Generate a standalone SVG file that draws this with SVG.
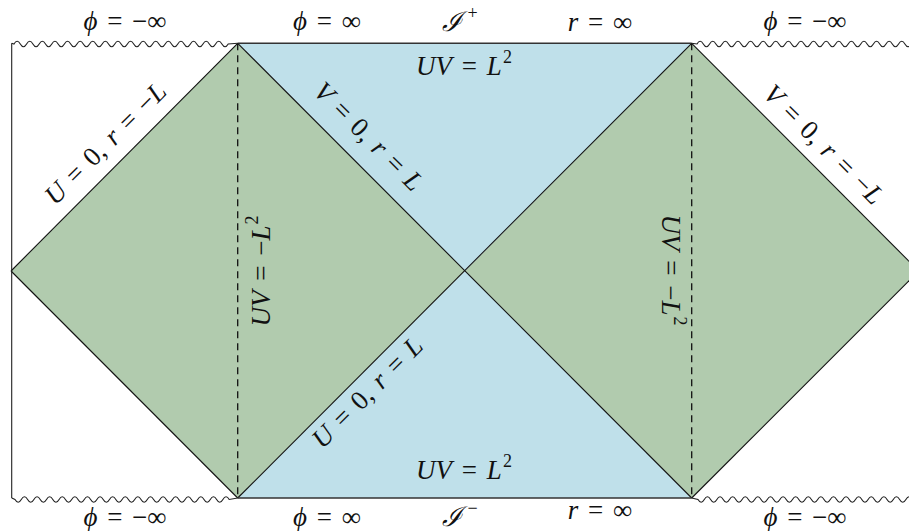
<svg xmlns="http://www.w3.org/2000/svg" width="909" height="531" viewBox="0 0 909 531">
<style>
.bg{fill:#ffffff}
.green{fill:#b1cbae;stroke:none}
.blue{fill:#bfe0ea;stroke:none}
.edge{stroke:#111;stroke-width:1.1;fill:none}
.horiz{stroke:#333;stroke-width:1.6;fill:none}
.wave{stroke:#222;stroke-width:1.1;fill:none}
.dash{stroke:#111;stroke-width:1.3;stroke-dasharray:7 5;fill:none}
.m{font-family:"Liberation Serif","Times New Roman","DejaVu Serif",serif;font-size:27px;fill:#111;word-spacing:3px}
.i{font-style:italic}
.sup{font-size:18px}
</style>
<rect class="bg" x="0" y="0" width="909" height="531"/>
<g id="regions">
  <polygon id="left-exterior" class="green" points="11,271 237.7,43.3 465,271 237.7,498"/>
  <polygon id="right-exterior" class="green" points="465,271 691.7,43.3 918.7,271 691.7,498"/>
  <polygon id="future-interior" class="blue" points="237.7,43.3 691.7,43.3 465,271"/>
  <polygon id="past-interior" class="blue" points="237.7,498 691.7,498 465,271"/>
</g>
<g id="connectors">
  <line class="edge" x1="11" y1="271" x2="237.7" y2="43.3"/>
  <line class="edge" x1="11" y1="271" x2="237.7" y2="498"/>
  <line class="edge" x1="237.7" y1="43.3" x2="691.7" y2="498"/>
  <line class="edge" x1="691.7" y1="43.3" x2="237.7" y2="498"/>
  <line class="edge" x1="691.7" y1="43.3" x2="918.7" y2="271"/>
  <line class="edge" x1="691.7" y1="498" x2="918.7" y2="271"/>
  <line class="horiz" x1="237.7" y1="43.3" x2="691.7" y2="43.3"/>
  <line class="horiz" x1="237.7" y1="498" x2="691.7" y2="498"/>
  <line class="dash" x1="237.7" y1="43.3" x2="237.7" y2="498"/>
  <line class="dash" x1="691.7" y1="43.3" x2="691.7" y2="498"/>
  <line class="wave" x1="11.7" y1="43.3" x2="11.7" y2="498"/>
  <path class="wave" d="M11.7,43.3 L14,44 q3.15,-5.5 6.3,0 t6.3,0 t6.3,0 t6.3,0 t6.3,0 t6.3,0 t6.3,0 t6.3,0 t6.3,0 t6.3,0 t6.3,0 t6.3,0 t6.3,0 t6.3,0 t6.3,0 t6.3,0 t6.3,0 t6.3,0 t6.3,0 t6.3,0 t6.3,0 t6.3,0 t6.3,0 t6.3,0 t6.3,0 t6.3,0 t6.3,0 t6.3,0 t6.3,0 t6.3,0 t6.3,0 t6.3,0 t6.3,0 t6.3,0 L237.7,43.3"/>
  <path class="wave" d="M11.7,498 L15,499.5 q3.15,5.5 6.3,0 t6.3,0 t6.3,0 t6.3,0 t6.3,0 t6.3,0 t6.3,0 t6.3,0 t6.3,0 t6.3,0 t6.3,0 t6.3,0 t6.3,0 t6.3,0 t6.3,0 t6.3,0 t6.3,0 t6.3,0 t6.3,0 t6.3,0 t6.3,0 t6.3,0 t6.3,0 t6.3,0 t6.3,0 t6.3,0 t6.3,0 t6.3,0 t6.3,0 t6.3,0 t6.3,0 t6.3,0 t6.3,0 t6.3,0 L237.7,498"/>
  <path class="wave" d="M691.7,43.3 L697,44 q3.15,-5.5 6.3,0 t6.3,0 t6.3,0 t6.3,0 t6.3,0 t6.3,0 t6.3,0 t6.3,0 t6.3,0 t6.3,0 t6.3,0 t6.3,0 t6.3,0 t6.3,0 t6.3,0 t6.3,0 t6.3,0 t6.3,0 t6.3,0 t6.3,0 t6.3,0 t6.3,0 t6.3,0 t6.3,0 t6.3,0 t6.3,0 t6.3,0 t6.3,0 t6.3,0 t6.3,0 t6.3,0 t6.3,0 t6.3,0 t6.3,0 t6.3,0"/>
  <path class="wave" d="M691.7,498 L698,499.5 q3.15,5.5 6.3,0 t6.3,0 t6.3,0 t6.3,0 t6.3,0 t6.3,0 t6.3,0 t6.3,0 t6.3,0 t6.3,0 t6.3,0 t6.3,0 t6.3,0 t6.3,0 t6.3,0 t6.3,0 t6.3,0 t6.3,0 t6.3,0 t6.3,0 t6.3,0 t6.3,0 t6.3,0 t6.3,0 t6.3,0 t6.3,0 t6.3,0 t6.3,0 t6.3,0 t6.3,0 t6.3,0 t6.3,0 t6.3,0 t6.3,0 t6.3,0"/>
</g>
<g id="top-labels">
  <text class="m" x="125" y="30" text-anchor="middle"><tspan class="i">ϕ</tspan> = −∞</text>
  <text class="m" x="327" y="30" text-anchor="middle"><tspan class="i">ϕ</tspan> = ∞</text>
  <text class="m" x="460" y="31" text-anchor="middle"><tspan class="i">ℐ</tspan><tspan class="sup" dx="5" dy="-12">+</tspan></text>
  <text class="m" x="600" y="31" text-anchor="middle"><tspan class="i">r</tspan> = ∞</text>
  <text class="m" x="805" y="30" text-anchor="middle"><tspan class="i">ϕ</tspan> = −∞</text>
  <text class="m" x="464" y="75" text-anchor="middle"><tspan class="i">UV</tspan> = <tspan class="i">L</tspan><tspan class="sup" dx="1" dy="-12">2</tspan></text>
</g>
<g id="bottom-labels">
  <text class="m" x="464" y="479" text-anchor="middle"><tspan class="i">UV</tspan> = <tspan class="i">L</tspan><tspan class="sup" dx="1" dy="-12">2</tspan></text>
  <text class="m" x="125" y="526" text-anchor="middle"><tspan class="i">ϕ</tspan> = −∞</text>
  <text class="m" x="327" y="526" text-anchor="middle"><tspan class="i">ϕ</tspan> = ∞</text>
  <text class="m" x="460" y="526" text-anchor="middle"><tspan class="i">ℐ</tspan><tspan class="sup" dx="5" dy="-12">−</tspan></text>
  <text class="m" x="600" y="519" text-anchor="middle"><tspan class="i">r</tspan> = ∞</text>
  <text class="m" x="805" y="526" text-anchor="middle"><tspan class="i">ϕ</tspan> = −∞</text>
</g>
<g id="edge-labels">
  <text class="m" text-anchor="middle" transform="translate(106,144) rotate(-45)" y="8"><tspan class="i">U</tspan> = 0, <tspan class="i">r</tspan> = −<tspan class="i">L</tspan></text>
  <text class="m" text-anchor="middle" transform="translate(368,137) rotate(45)" y="8"><tspan class="i">V</tspan> = 0, <tspan class="i">r</tspan> = <tspan class="i">L</tspan></text>
  <text class="m" text-anchor="middle" transform="translate(368,393) rotate(-45)" y="8"><tspan class="i">U</tspan> = 0, <tspan class="i">r</tspan> = <tspan class="i">L</tspan></text>
  <text class="m" text-anchor="middle" transform="translate(823,145) rotate(45)" y="8"><tspan class="i">V</tspan> = 0, <tspan class="i">r</tspan> = −<tspan class="i">L</tspan></text>
  <text class="m" text-anchor="middle" transform="translate(262,271) rotate(-90)" y="8"><tspan class="i">UV</tspan> = −<tspan class="i">L</tspan><tspan class="sup" dx="1" dy="-12">2</tspan></text>
  <text class="m" text-anchor="middle" transform="translate(670,270) rotate(90)" y="8"><tspan class="i">UV</tspan> = −<tspan class="i">L</tspan><tspan class="sup" dx="1" dy="-12">2</tspan></text>
</g>
</svg>
